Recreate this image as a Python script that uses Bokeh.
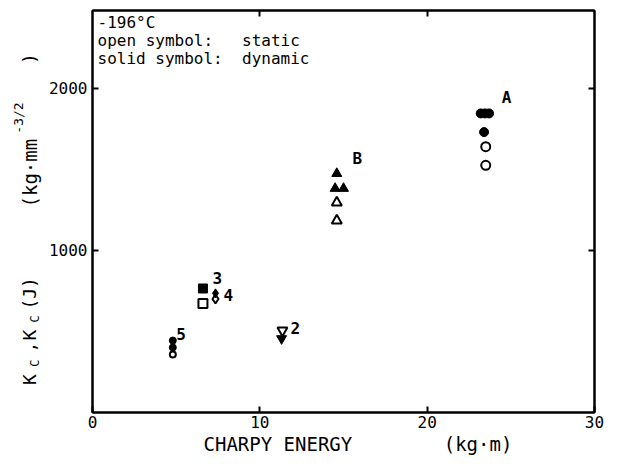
import math
from bokeh.plotting import figure
from bokeh.models import FixedTicker, LinearAxis, Label, Range1d, Title, CustomJSTickFormatter
from bokeh.layouts import row
from bokeh.embed import file_html
from bokeh.resources import INLINE

# ---- data (kg*m, kg*mm^-3/2) ----
A_dyn_x = [23.2, 23.45, 23.7, 23.4]
A_dyn_y = [1845, 1845, 1845, 1730]
A_sta_x = [23.5, 23.5]
A_sta_y = [1640, 1525]

B_dyn_x = [14.6, 14.5, 15.0]
B_dyn_y = [1474, 1382, 1382]
B_sta_x = [14.6, 14.6]
B_sta_y = [1295, 1184]

S3_dyn_x = [6.6]
S3_dyn_y = [765]
S3_sta_x = [6.6]
S3_sta_y = [672]

S4_dyn_x = [7.35]
S4_dyn_y = [735]
S4_sta_x = [7.35]
S4_sta_y = [700]

S2_dyn_x = [11.3]
S2_dyn_y = [456]
S2_sta_x = [11.35]
S2_sta_y = [506]

S5_dyn_x = [4.8, 4.8]
S5_dyn_y = [444, 401]
S5_sta_x = [4.8]
S5_sta_y = [358]

x_ticks = [0, 10, 20, 30]
y_ticks = [1000, 2000]

FONT = "DejaVu Sans Mono"
NB = "\u00a0"

yr = Range1d(0, 2480)

p = figure(width=566, height=460, x_range=(0, 30), y_range=yr,
           output_backend="svg", toolbar_location=None,
           min_border_left=48, min_border_right=16, min_border_top=10, min_border_bottom=48)
p.xgrid.visible = False
p.ygrid.visible = False
p.outline_line_color = "black"
p.outline_line_width = 2

for ax, ticks in ((p.xaxis[0], x_ticks), (p.yaxis[0], y_ticks)):
    ax.ticker = FixedTicker(ticks=ticks)
    ax.major_tick_in = 6
    ax.major_tick_out = 0
    ax.minor_tick_line_color = None
    ax.axis_line_width = 2
    ax.major_tick_line_width = 2
    ax.major_label_text_font = FONT
    ax.major_label_text_font_size = "16px"
    ax.major_label_text_color = "black"
    ax.major_label_standoff = 5
p.xaxis[0].major_label_standoff = 3

blank = CustomJSTickFormatter(code="return ''")
top = LinearAxis(ticker=FixedTicker(ticks=[10, 20]), major_tick_in=6, major_tick_out=0,
                 minor_tick_line_color=None, axis_line_width=2, major_tick_line_width=2,
                 formatter=blank, major_label_standoff=0)
right = LinearAxis(ticker=FixedTicker(ticks=y_ticks), major_tick_in=6, major_tick_out=0,
                   minor_tick_line_color=None, axis_line_width=2, major_tick_line_width=2,
                   formatter=blank, major_label_standoff=0)
p.add_layout(top, "above")
p.add_layout(right, "right")

p.add_layout(Title(text="CHARPY ENERGY" + NB * 8 + "(kg·m)", align="left", offset=111,
                   text_font=FONT, text_font_size="19px", text_font_style="normal",
                   text_color="black", standoff=1), "below")

def solid(x, y, marker, size=9):
    p.scatter(x, y, marker=marker, size=size, fill_color="black", line_color="black", line_width=1)

def hollow(x, y, marker, size=9):
    p.scatter(x, y, marker=marker, size=size, fill_color="white", line_color="black", line_width=2)

solid(A_dyn_x, A_dyn_y, "circle")
hollow(A_sta_x, A_sta_y, "circle")
solid(B_dyn_x, B_dyn_y, "triangle", 10)
hollow(B_sta_x, B_sta_y, "triangle", 10)
solid(S3_dyn_x, S3_dyn_y, "square", 9)
hollow(S3_sta_x, S3_sta_y, "square", 9)
hollow(S4_sta_x, S4_sta_y, "diamond", 9)
solid(S4_dyn_x, S4_dyn_y, "diamond", 9)
hollow(S2_sta_x, S2_sta_y, "inverted_triangle", 10)
solid(S2_dyn_x, S2_dyn_y, "inverted_triangle", 10)
solid(S5_dyn_x, S5_dyn_y, "circle", 7)
hollow(S5_sta_x, S5_sta_y, "circle", 6)

def lab(fig, x, y, t, size="16px", angle=0, align="left", baseline="alphabetic", style="normal"):
    fig.add_layout(Label(x=x, y=y, text=t, text_font=FONT, text_font_size=size,
                         angle=angle, text_align=align, text_baseline=baseline,
                         text_font_style=style, text_color="black"))

# material labels
lab(p, 24.45, 1943, "A", baseline="middle", style="bold")
lab(p, 15.54, 1567, "B", baseline="middle", style="bold")
lab(p, 7.17, 827, "3", baseline="middle", style="bold")
lab(p, 7.83, 722, "4", baseline="middle", style="bold")
lab(p, 11.83, 524, "2", baseline="middle", style="bold")
lab(p, 5.0, 487, "5", baseline="middle", style="bold")

# legend text
lab(p, 0.3, 2405, "-196°C", size="16px")
lab(p, 0.3, 2293, "open symbol:" + NB * 3 + "static", size="16px")
lab(p, 0.3, 2181, "solid symbol:" + NB * 2 + "dynamic", size="16px")

# y title in its own narrow panel sharing the y range
t = figure(width=44, height=460, x_range=Range1d(0, 44), y_range=yr,
           output_backend="svg", toolbar_location=None, x_axis_type=None, y_axis_type=None,
           min_border_left=0, min_border_right=0, min_border_top=10, min_border_bottom=48)
t.outline_line_color = None
t.xgrid.visible = False
t.ygrid.visible = False

R = math.pi / 2
lab(t, 29, 170, "K", size="18px", angle=R)
lab(t, 34, 283, "C", size="12px", angle=R)
lab(t, 29, 370, ",", size="18px", angle=R)
lab(t, 29, 444, "K", size="18px", angle=R)
lab(t, 34, 555, "C", size="12px", angle=R)
lab(t, 29, 635, "(J)", size="18px", angle=R)
lab(t, 29, 1265, "(kg·mm", size="19px", angle=R)
lab(t, 18, 1720, "-3/2", size="13px", angle=R)
lab(t, 29, 2150, ")", size="18px", angle=R)

layout = row(t, p)
open("out.html", "w").write(file_html(layout, INLINE))
